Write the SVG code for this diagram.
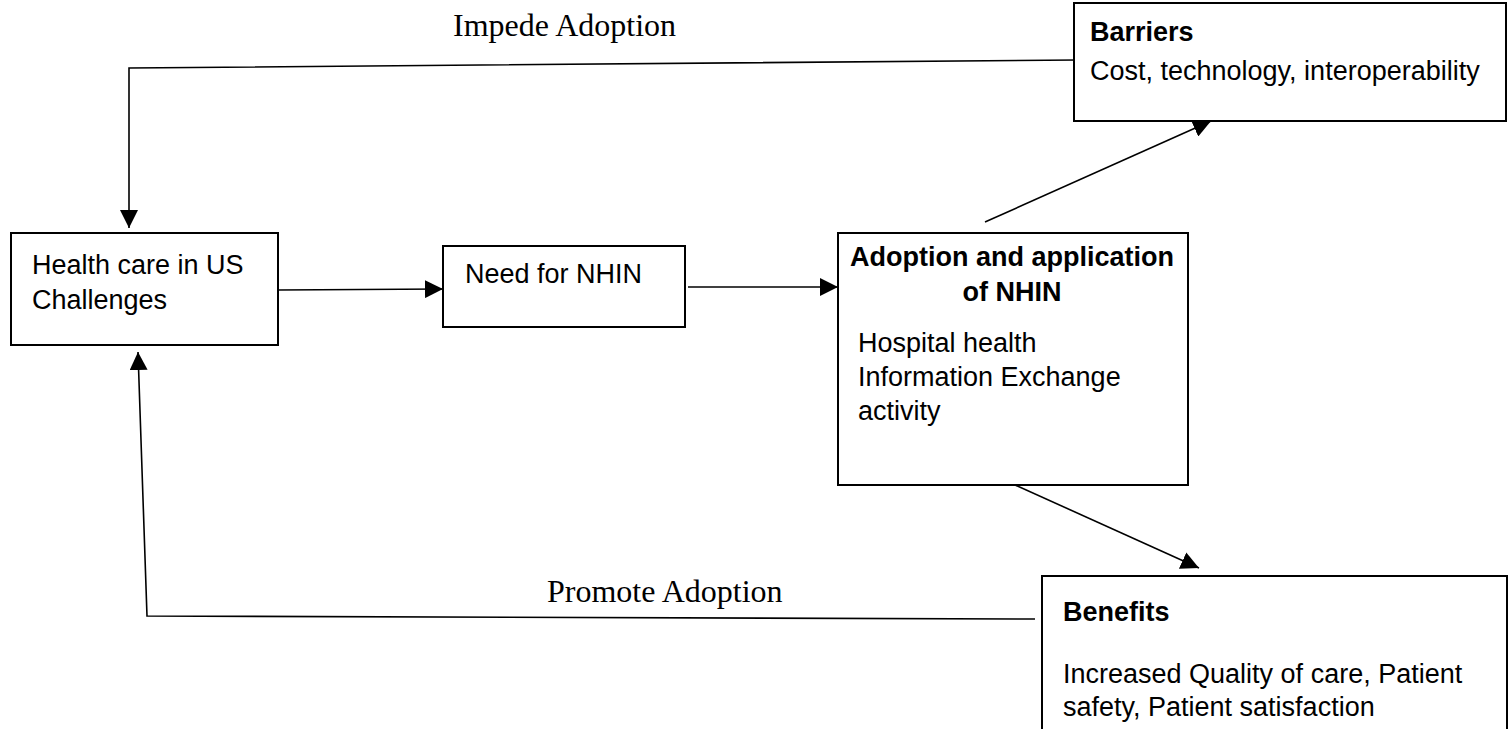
<svg xmlns="http://www.w3.org/2000/svg" width="1510" height="729" viewBox="0 0 1510 729">
<defs>
<style>
.box{fill:#fff;stroke:#000;stroke-width:2}
.t{font-family:"Liberation Sans",Arial,sans-serif;font-size:27px;fill:#000}
.b{font-weight:bold}
.s{font-family:"Liberation Serif","Times New Roman",serif;font-size:32px;fill:#000}
.c{fill:none;stroke:#000;stroke-width:1.6}
</style>
<marker id="ah" markerUnits="userSpaceOnUse" markerWidth="18" markerHeight="18" viewBox="0 0 16 16" refX="16" refY="8" orient="auto">
<path d="M0,0 L16,8 L0,16 Z" fill="#000"/>
</marker>
</defs>
<rect width="1510" height="729" fill="#fff"/>
<g id="connectors">
<polyline class="c" points="1077,60 129,68 129,228" marker-end="url(#ah)"/>
<line class="c" x1="278" y1="290" x2="443" y2="289" marker-end="url(#ah)"/>
<line class="c" x1="688" y1="287" x2="838" y2="287" marker-end="url(#ah)"/>
<line class="c" x1="985" y1="222" x2="1211" y2="121" marker-end="url(#ah)"/>
<line class="c" x1="1013" y1="484" x2="1199" y2="568" marker-end="url(#ah)"/>
<polyline class="c" points="1035,619 147,616 138,352" marker-end="url(#ah)"/>
<text class="s" x="453" y="36">Impede Adoption</text>
<text class="s" x="547" y="602">Promote Adoption</text>
</g>
<g id="barriers">
<rect class="box" x="1074" y="3" width="432" height="118"/>
<text class="t b" x="1090" y="41">Barriers</text>
<text class="t" x="1090" y="80">Cost, technology, interoperability</text>
</g>
<g id="health">
<rect class="box" x="11" y="233" width="267" height="112"/>
<text class="t" x="32" y="274">Health care in US</text>
<text class="t" x="32" y="309">Challenges</text>
</g>
<g id="need">
<rect class="box" x="443" y="246" width="242" height="81"/>
<text class="t" x="465" y="283">Need for NHIN</text>
</g>
<g id="adoption">
<rect class="box" x="838" y="233" width="350" height="252"/>
<text class="t b" x="1012" y="266" text-anchor="middle">Adoption and application</text>
<text class="t b" x="1012" y="301" text-anchor="middle">of NHIN</text>
<text class="t" x="858" y="352">Hospital health</text>
<text class="t" x="858" y="386">Information Exchange</text>
<text class="t" x="858" y="420">activity</text>
</g>
<g id="benefits">
<path class="box" d="M1042,729 V576 H1507 V729"/>
<text class="t b" x="1063" y="621">Benefits</text>
<text class="t" x="1063" y="683">Increased Quality of care, Patient</text>
<text class="t" x="1063" y="716">safety, Patient satisfaction</text>
</g>
</svg>
